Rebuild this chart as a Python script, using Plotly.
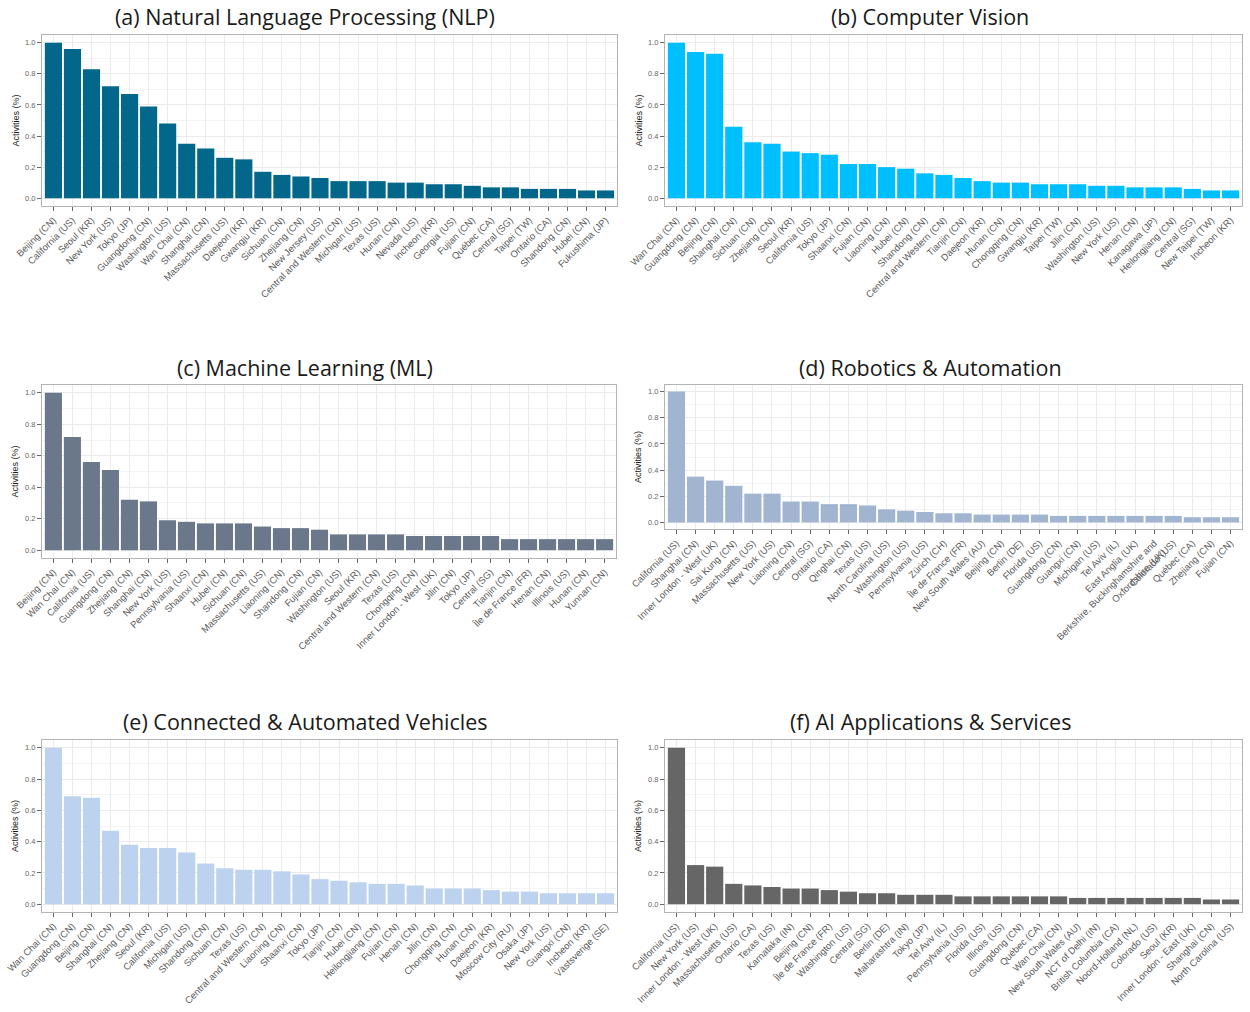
import plotly.graph_objects as go

# ---------------- data ----------------
nlp_regions = ["Beijing (CN)", "California (US)", "Seoul (KR)", "New York (US)", "Tokyo (JP)",
               "Guangdong (CN)", "Washington (US)", "Wan Chai (CN)", "Shanghai (CN)", "Massachusetts (US)",
               "Daejeon (KR)", "Gwangju (KR)", "Sichuan (CN)", "Zhejiang (CN)", "New Jersey (US)",
               "Central and Western (CN)", "Michigan (US)", "Texas (US)", "Hunan (CN)", "Nevada (US)",
               "Incheon (KR)", "Georgia (US)", "Fujian (CN)", "Québec (CA)", "Central (SG)",
               "Taipei (TW)", "Ontario (CA)", "Shandong (CN)", "Hubei (CN)", "Fukushima (JP)"]
nlp_values = [1.0, 0.96, 0.83, 0.72, 0.67, 0.59, 0.48, 0.35, 0.32, 0.26,
              0.25, 0.17, 0.15, 0.14, 0.13, 0.11, 0.11, 0.11, 0.10, 0.10,
              0.09, 0.09, 0.08, 0.07, 0.07, 0.06, 0.06, 0.06, 0.05, 0.05]

cv_regions = ["Wan Chai (CN)", "Guangdong (CN)", "Beijing (CN)", "Shanghai (CN)", "Sichuan (CN)",
              "Zhejiang (CN)", "Seoul (KR)", "California (US)", "Tokyo (JP)", "Shaanxi (CN)",
              "Fujian (CN)", "Liaoning (CN)", "Hubei (CN)", "Shandong (CN)", "Central and Western (CN)",
              "Tianjin (CN)", "Daejeon (KR)", "Hunan (CN)", "Chongqing (CN)", "Gwangju (KR)",
              "Taipei (TW)", "Jilin (CN)", "Washington (US)", "New York (US)", "Henan (CN)",
              "Kanagawa (JP)", "Heilongjiang (CN)", "Central (SG)", "New Taipei (TW)", "Incheon (KR)"]
cv_values = [1.0, 0.94, 0.93, 0.46, 0.36, 0.35, 0.30, 0.29, 0.28, 0.22,
             0.22, 0.20, 0.19, 0.16, 0.15, 0.13, 0.11, 0.10, 0.10, 0.09,
             0.09, 0.09, 0.08, 0.08, 0.07, 0.07, 0.07, 0.06, 0.05, 0.05]

ml_regions = ["Beijing (CN)", "Wan Chai (CN)", "California (US)", "Guangdong (CN)", "Zhejiang (CN)",
              "Shanghai (CN)", "New York (US)", "Pennsylvania (US)", "Shaanxi (CN)", "Hubei (CN)",
              "Sichuan (CN)", "Massachusetts (US)", "Liaoning (CN)", "Shandong (CN)", "Fujian (CN)",
              "Washington (US)", "Seoul (KR)", "Central and Western (CN)", "Texas (US)", "Chongqing (CN)",
              "Inner London - West (UK)", "Jilin (CN)", "Tokyo (JP)", "Central (SG)", "Tianjin (CN)",
              "Île de France (FR)", "Henan (CN)", "Illinois (US)", "Hunan (CN)", "Yunnan (CN)"]
ml_values = [1.0, 0.72, 0.56, 0.51, 0.32, 0.31, 0.19, 0.18, 0.17, 0.17,
             0.17, 0.15, 0.14, 0.14, 0.13, 0.10, 0.10, 0.10, 0.10, 0.09,
             0.09, 0.09, 0.09, 0.09, 0.07, 0.07, 0.07, 0.07, 0.07, 0.07]

rob_regions = ["California (US)", "Shanghai (CN)", "Inner London - West (UK)", "Sai Kung (CN)", "Massachusetts (US)",
               "New York (US)", "Liaoning (CN)", "Central (SG)", "Ontario (CA)", "Qinghai (CN)",
               "Texas (US)", "North Carolina (US)", "Washington (US)", "Pennsylvania (US)", "Zürich (CH)",
               "Île de France (FR)", "New South Wales (AU)", "Beijing (CN)", "Berlin (DE)", "Florida (US)",
               "Guangdong (CN)", "Guangxi (CN)", "Michigan (US)", "Tel Aviv (IL)", "East Anglia (UK)",
               "Berkshire, Buckinghamshire and<br>Oxfordshire (UK)", "Colorado (US)", "Québec (CA)",
               "Zhejiang (CN)", "Fujian (CN)"]
rob_values = [1.0, 0.35, 0.32, 0.28, 0.22, 0.22, 0.16, 0.16, 0.14, 0.14,
              0.13, 0.10, 0.09, 0.08, 0.07, 0.07, 0.06, 0.06, 0.06, 0.06,
              0.05, 0.05, 0.05, 0.05, 0.05, 0.05, 0.05, 0.04, 0.04, 0.04]

cav_regions = ["Wan Chai (CN)", "Guangdong (CN)", "Beijing (CN)", "Shanghai (CN)", "Zhejiang (CN)",
               "Seoul (KR)", "California (US)", "Michigan (US)", "Shandong (CN)", "Sichuan (CN)",
               "Texas (US)", "Central and Western (CN)", "Liaoning (CN)", "Shaanxi (CN)", "Tokyo (JP)",
               "Tianjin (CN)", "Hubei (CN)", "Heilongjiang (CN)", "Fujian (CN)", "Henan (CN)",
               "Jilin (CN)", "Chongqing (CN)", "Hunan (CN)", "Daejeon (KR)", "Moscow City (RU)",
               "Osaka (JP)", "New York (US)", "Guangxi (CN)", "Incheon (KR)", "Västsverige (SE)"]
cav_values = [1.0, 0.69, 0.68, 0.47, 0.38, 0.36, 0.36, 0.33, 0.26, 0.23,
              0.22, 0.22, 0.21, 0.19, 0.16, 0.15, 0.14, 0.13, 0.13, 0.12,
              0.10, 0.10, 0.10, 0.09, 0.08, 0.08, 0.07, 0.07, 0.07, 0.07]

app_regions = ["California (US)", "New York (US)", "Inner London - West (UK)", "Massachusetts (US)", "Ontario (CA)",
               "Texas (US)", "Karnataka (IN)", "Beijing (CN)", "Île de France (FR)", "Washington (US)",
               "Central (SG)", "Berlin (DE)", "Maharashtra (IN)", "Tokyo (JP)", "Tel Aviv (IL)",
               "Pennsylvania (US)", "Florida (US)", "Illinois (US)", "Guangdong (CN)", "Québec (CA)",
               "Wan Chai (CN)", "New South Wales (AU)", "NCT of Delhi (IN)", "British Columbia (CA)", "Noord-Holland (NL)",
               "Colorado (US)", "Seoul (KR)", "Inner London - East (UK)", "Shanghai (CN)", "North Carolina (US)"]
app_values = [1.0, 0.25, 0.24, 0.13, 0.12, 0.11, 0.10, 0.10, 0.09, 0.08,
              0.07, 0.07, 0.06, 0.06, 0.06, 0.05, 0.05, 0.05, 0.05, 0.05,
              0.05, 0.04, 0.04, 0.04, 0.04, 0.04, 0.04, 0.04, 0.03, 0.03]

titles = ["(a) Natural Language Processing (NLP)", "(b) Computer Vision",
          "(c) Machine Learning (ML)", "(d) Robotics & Automation",
          "(e) Connected & Automated Vehicles", "(f) AI Applications & Services"]
colors = ["#02678B", "#00BFFF", "#6B788B", "#A2B5D0", "#BCD2EE", "#666666"]
y_ticks = [0.0, 0.2, 0.4, 0.6, 0.8, 1.0]

# ---------------- layout (pixel boxes) ----------------
W, H = 1250, 1012
# (left, right, top, bottom) of each plotting panel, in page pixels
boxes = [(42, 617, 35, 206), (665, 1242, 35, 206),
         (42, 616, 385, 558), (665, 1242, 385, 529),
         (42, 617, 740, 912), (665, 1242, 740, 912)]
title_pos = [(305, 16), (930, 16), (305, 367), (930, 367), (305, 721), (930, 721)]

series = [(nlp_regions, nlp_values), (cv_regions, cv_values), (ml_regions, ml_values),
          (rob_regions, rob_values), (cav_regions, cav_values), (app_regions, app_values)]

def px(x):
    return x / W

def py(y):
    return 1 - y / H

fig = go.Figure()
annotations = []
grid_col = "#EBEBEB"
axis_col = "#B3B3B3"
tick_font = dict(family="Liberation Sans, Arial, sans-serif", size=9.5, color="#5A5A5A")

for i, ((regs, vals), color, box, title, tpos) in enumerate(zip(series, colors, boxes, titles, title_pos)):
    sfx = "" if i == 0 else str(i + 1)
    fig.add_trace(go.Bar(x=regs, y=vals, marker=dict(color=color, line=dict(width=0)),
                         xaxis="x" + sfx, yaxis="y" + sfx, showlegend=False,
                         hovertemplate="%{x}: %{y:.2f}<extra></extra>"))
    l, r, t, b = box
    fig.layout["xaxis" + sfx] = dict(
        domain=[px(l), px(r)], anchor="y" + sfx, type="category", automargin=False,
        range=[-0.6, len(regs) - 0.4], tickangle=-45, tickfont=tick_font,
        showgrid=True, gridcolor=grid_col, gridwidth=0.6,
        showline=True, linecolor=axis_col, linewidth=1, mirror=True,
        ticks="outside", ticklen=4, tickcolor="#666666", zeroline=False, fixedrange=True)
    fig.layout["yaxis" + sfx] = dict(
        domain=[py(b), py(t)], anchor="x" + sfx, automargin=False,
        range=[-0.05, 1.05], tickvals=y_ticks, ticktext=[f"{v:.1f}" for v in y_ticks],
        tickfont=dict(family="Liberation Sans, Arial, sans-serif", size=7.5, color="#666666"),
        showgrid=True, gridcolor=grid_col, gridwidth=0.8,
        minor=dict(tickvals=[0.1, 0.3, 0.5, 0.7, 0.9], showgrid=True, gridcolor="#F4F4F4", gridwidth=0.5),
        showline=True, linecolor=axis_col, linewidth=1, mirror=True,
        ticks="outside", ticklen=4, tickcolor="#666666", zeroline=False, fixedrange=True)
    annotations.append(dict(text=title, x=px(tpos[0]), y=py(tpos[1]), xref="paper", yref="paper",
                            xanchor="center", yanchor="middle", showarrow=False,
                            font=dict(family="Open Sans, sans-serif", size=21.5, color="#1A1A1A")))
    annotations.append(dict(text="Activities (%)", x=px(l - 27), y=py((t + b) / 2),
                            xref="paper", yref="paper", xanchor="center", yanchor="middle",
                            textangle=-90, showarrow=False,
                            font=dict(family="Liberation Sans, Arial, sans-serif", size=9, color="#1A1A1A")))

fig.update_layout(width=W, height=H, autosize=False, margin=dict(l=0, r=0, t=0, b=0),
                  plot_bgcolor="white", paper_bgcolor="white", bargap=0.1,
                  annotations=annotations)
fig.write_html("out.html", config={"displayModeBar": False},
               post_script="document.body.style.margin='0';document.body.style.overflow='hidden';")
